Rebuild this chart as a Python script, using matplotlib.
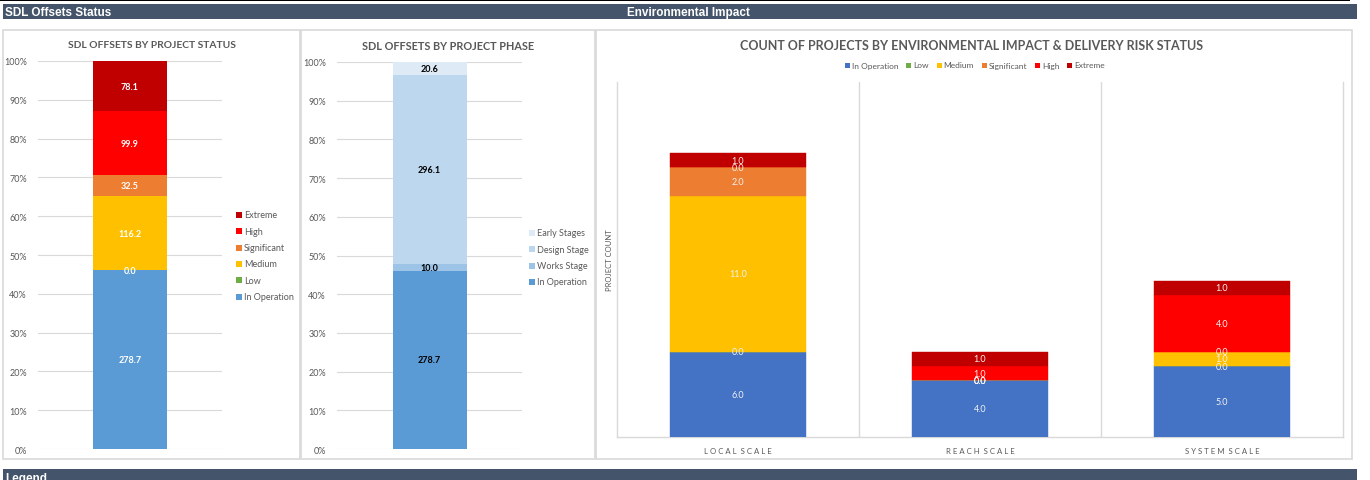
import matplotlib
matplotlib.use("Agg")
import matplotlib.pyplot as plt
from matplotlib.patches import Rectangle
import numpy as np

plt.rcParams['font.family'] = ['Lato', 'DejaVu Sans']

# ---------------- data ----------------
status_labels = ["In Operation", "Low", "Medium", "Significant", "High", "Extreme"]
status_values = [278.7, 0.0, 116.2, 32.5, 99.9, 78.1]
status_colors = ["#5B9BD5", "#70AD47", "#FFC000", "#ED7D31", "#FF0000", "#C00000"]

phase_labels = ["In Operation", "Works Stage", "Design Stage", "Early Stages"]
phase_values = [278.7, 10.0, 296.1, 20.6]
phase_colors = ["#5B9BD5", "#9DC3E6", "#BDD7EE", "#DEEBF7"]

env_categories = ["LOCAL SCALE", "REACH SCALE", "SYSTEM SCALE"]
env_series = ["In Operation", "Low", "Medium", "Significant", "High", "Extreme"]
env_in_operation = [6, 4, 5]
env_low = [0, 0, 0]
env_medium = [11, 0, 1]
env_significant = [2, 0, 0]
env_high = [0, 1, 4]
env_extreme = [1, 1, 1]
env_colors = ["#4472C4", "#70AD47", "#FFC000", "#ED7D31", "#FF0000", "#C00000"]

pct_ticks = [0, 10, 20, 30, 40, 50, 60, 70, 80, 90, 100]

# ---------------- figure ----------------
W, H = 1370, 481
fig = plt.figure(figsize=(W / 100, H / 100), dpi=100)
fig.patch.set_facecolor("white")


def ax_px(x0, y0, x1, y1, **kw):
    return fig.add_axes([x0 / W, 1 - y1 / H, (x1 - x0) / W, (y1 - y0) / H], **kw)


bg = ax_px(0, 0, W, H)
bg.set_xlim(0, W)
bg.set_ylim(H, 0)
bg.axis("off")
bg.set_zorder(-5)

HEAD = "#44546A"
bg.add_patch(Rectangle((0, 0), 1350, 2, color="black", lw=0))
bg.add_patch(Rectangle((3, 5), 1354, 15, color=HEAD, lw=0))
bg.add_patch(Rectangle((3, 470), 1354, 12, color=HEAD, lw=0))
hfont = ['Liberation Sans Narrow', 'Liberation Sans', 'DejaVu Sans']
bg.text(5, 13, "SDL Offsets Status", color="white", fontsize=8.5, fontweight="heavy",
        family=hfont, va="center", ha="left")
bg.text(627, 13, "Environmental Impact", color="white", fontsize=8.5, fontweight="heavy",
        family=hfont, va="center", ha="left")
bg.text(5, 479, "Legend", color="white", fontsize=8.5, fontweight="heavy",
        family=hfont, va="center", ha="left", clip_on=True)

for (x0, x1) in [(3, 300), (301, 595), (596, 1352)]:
    bg.add_patch(Rectangle((x0, 31), x1 - x0, 429, fill=False, ec="#D9D9D9", lw=1.2))

TCOL = "#595959"
bg.text(152, 46, "SDL OFFSETS BY PROJECT STATUS", color=TCOL, fontsize=7.4,
        fontweight="bold", ha="center", va="center")
bg.text(448, 46, "SDL OFFSETS BY PROJECT PHASE", color=TCOL, fontsize=7.8,
        fontweight="bold", ha="center", va="center")
bg.text(972, 46, "COUNT OF PROJECTS BY ENVIRONMENTAL IMPACT & DELIVERY RISK STATUS",
        color=TCOL, fontsize=9.0, fontweight="bold", ha="center", va="center")


def pct_chart(x0, x1, y_top, labels, values, colors, label_color, legend_x, legend_y_top,
              bar_lw=0.4):
    ax = ax_px(x0, y_top, x1, 450)
    total = sum(values)
    pcts = [v / total * 100 for v in values]
    bottom = 0
    for lab, p, v, c in zip(labels, pcts, values, colors):
        ax.bar(0, p, bottom=bottom, width=bar_lw, color=c, label=lab, zorder=3)
        ax.text(0, bottom + p / 2, f"{v:.1f}", ha="center", va="center",
                color=label_color, fontsize=6.5, fontweight="bold", zorder=4)
        bottom += p
    ax.set_xlim(-0.5, 0.5)
    ax.set_ylim(0, 100)
    ax.set_yticks(pct_ticks)
    ax.set_yticklabels([f"{t}%" for t in pct_ticks], fontsize=6.5, color=TCOL)
    ax.tick_params(axis="y", length=0, pad=8)
    ax.set_xticks([])
    ax.grid(axis="y", color="#D9D9D9", lw=0.8, zorder=0)
    for s in ax.spines.values():
        s.set_visible(False)
    ax.patch.set_alpha(0)
    n = len(labels)
    for i in range(n):
        idx = n - 1 - i
        yy = legend_y_top + i * 16.3
        bg.add_patch(Rectangle((legend_x, yy - 3), 6, 6, color=colors[idx], lw=0))
        bg.text(legend_x + 8, yy, labels[idx], fontsize=6.5, color=TCOL, va="center",
                ha="left")
    return ax


pct_chart(38, 222, 62, status_labels, status_values, status_colors, "white", 236, 216)
pct_chart(337, 522, 63, phase_labels, phase_values, phase_colors, "black", 529, 234)

# ---------------- environmental chart ----------------
ax3 = ax_px(617, 83, 1343, 438)
env_data = [env_in_operation, env_low, env_medium, env_significant, env_high, env_extreme]
x = np.arange(len(env_categories))
bottom = np.zeros(len(env_categories))
for name, vals, c in zip(env_series, env_data, env_colors):
    vals = np.array(vals, dtype=float)
    ax3.bar(x, vals, bottom=bottom, width=0.56, color=c, label=name, zorder=3,
            edgecolor=c, linewidth=0.3)
    for xi, v, b in zip(x, vals, bottom):
        ax3.text(xi, b + v / 2, f"{v:.1f}", ha="center", va="center", color="#F2F2F2",
                 fontsize=6.5, zorder=4)
    bottom += vals
ax3.set_xlim(-0.5, len(env_categories) - 0.5)
ax3.set_ylim(0, 25)
ax3.set_yticks([])
ax3.set_xticks(x)
ax3.set_xticklabels([" ".join(c) .replace("   ", "  ") for c in env_categories],
                    fontsize=5.6, color=TCOL)
ax3.tick_params(axis="x", length=0, pad=7)
for xs in [0.5, 1.5]:
    ax3.axvline(xs, color="#D9D9D9", lw=1, zorder=0)
ax3.spines["top"].set_visible(False)
for s in ["left", "right", "bottom"]:
    ax3.spines[s].set_color("#D9D9D9")
    ax3.spines[s].set_linewidth(1)
ax3.set_ylabel("PROJECT COUNT", fontsize=5.5, color=TCOL, labelpad=3)
ax3.patch.set_alpha(0)

# legend for env chart, measured so it spans the same width as the reference
renderer = fig.canvas.get_renderer()
texts = []
for name in env_series:
    t = bg.text(0, 66, name, fontsize=6, color=TCOL, va="center", ha="left")
    texts.append(t)
widths = [t.get_window_extent(renderer).width for t in texts]
sq, sqgap = 5, 2
span = 1105 - 845
gap = (span - sum(widths) - len(env_series) * (sq + sqgap)) / (len(env_series) - 1)
lx = 845
for t, w, c in zip(texts, widths, env_colors):
    bg.add_patch(Rectangle((lx, 63.5), sq, sq, color=c, lw=0))
    t.set_x(lx + sq + sqgap)
    lx += sq + sqgap + w + gap

fig.savefig("out.png", dpi=100, facecolor="white")
